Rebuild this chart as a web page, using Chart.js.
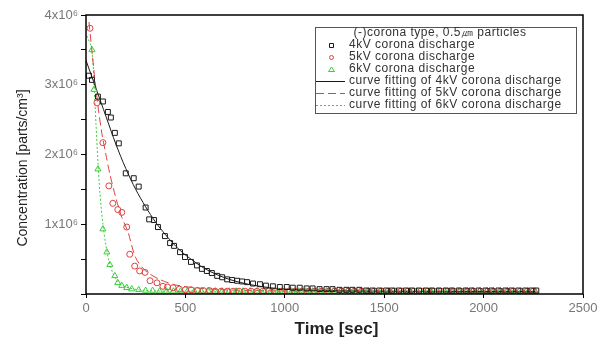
<!DOCTYPE html>
<html>
<head>
<meta charset="utf-8">
<script src="https://cdn.jsdelivr.net/npm/chart.js@4.4.1/dist/chart.umd.min.js"></script>
<style>
  html, body { margin: 0; padding: 0; background: #fff; }
  #wrap { width: 608px; height: 340px; }
</style>
</head>
<body>
<div id="wrap"><canvas id="chart" width="608" height="340"></canvas></div>
<script>
// measured points (time in sec, concentration in 1e6 parts/cm3)
const t4 = [15, 30, 60, 85, 110, 125, 145, 165, 200, 240, 265, 300, 318, 342, 362, 397,
  423, 443, 473, 498, 528, 558, 583, 608, 633, 660, 685, 710, 735, 760, 785, 810,
  840, 875, 905, 940, 975, 1010, 1040, 1075, 1110, 1140, 1175, 1210, 1240, 1275, 1310, 1340,
  1375, 1410, 1440, 1475, 1510, 1540, 1575, 1610, 1640, 1675, 1710, 1740, 1775, 1810, 1840, 1875,
  1910, 1940, 1975, 2010, 2040, 2075, 2110, 2140, 2175, 2210, 2240, 2265];
const c4 = [3.13, 3.07, 2.83, 2.76, 2.61, 2.53, 2.31, 2.16, 1.73, 1.66, 1.54, 1.24, 1.07, 1.06, 0.96, 0.83,
  0.73, 0.69, 0.60, 0.53, 0.46, 0.41, 0.36, 0.33, 0.30, 0.26, 0.24, 0.21, 0.20, 0.19, 0.18, 0.17,
  0.15, 0.14, 0.12, 0.11, 0.10, 0.10, 0.09, 0.09, 0.08, 0.08, 0.07, 0.07, 0.07, 0.06, 0.06, 0.06,
  0.06, 0.05, 0.05, 0.05, 0.05, 0.05, 0.05, 0.05, 0.05, 0.05, 0.05, 0.05, 0.05, 0.05, 0.05, 0.05,
  0.05, 0.05, 0.05, 0.05, 0.05, 0.05, 0.05, 0.05, 0.05, 0.05, 0.05, 0.05];

const t5 = [20, 55, 85, 115, 135, 160, 180, 205, 220, 245, 270, 297, 322, 357, 387, 410,
  438, 470, 500, 530, 560, 590, 620, 650, 680, 710, 740, 770, 800, 830, 860, 890,
  920, 950, 985, 1020, 1050, 1085, 1120, 1150, 1185, 1220, 1250, 1285, 1320, 1350, 1385, 1420,
  1450, 1485, 1520, 1550, 1585, 1620, 1650, 1685, 1720, 1750, 1785, 1820, 1850, 1885, 1920, 1950,
  1985, 2020, 2050, 2085, 2120, 2150, 2185, 2220, 2250];
const c5 = [3.81, 2.74, 2.17, 1.55, 1.30, 1.21, 1.17, 0.96, 0.57, 0.40, 0.33, 0.31, 0.19, 0.16, 0.11, 0.10,
  0.09, 0.07, 0.06, 0.06, 0.05, 0.05, 0.05, 0.04, 0.04, 0.04, 0.04, 0.04, 0.04, 0.04, 0.04, 0.04,
  0.04, 0.04, 0.04, 0.04, 0.04, 0.04, 0.04, 0.04, 0.04, 0.04, 0.04, 0.04, 0.04, 0.04, 0.04, 0.04,
  0.04, 0.04, 0.04, 0.04, 0.04, 0.04, 0.04, 0.04, 0.04, 0.04, 0.04, 0.04, 0.04, 0.04, 0.04, 0.04,
  0.04, 0.04, 0.04, 0.04, 0.04, 0.04, 0.04, 0.04, 0.04];

const t6 = [30, 40, 60, 85, 105, 120, 145, 160, 180, 205, 230, 265, 300, 335, 370, 405,
  440, 475, 510, 545, 580, 615, 650, 685, 720, 755, 790, 825, 860, 895, 930, 965,
  1000, 1035, 1070, 1105, 1140, 1175, 1210, 1245, 1280, 1315, 1350, 1385, 1420, 1455, 1490, 1525,
  1560, 1595, 1630, 1665, 1700, 1735, 1770, 1805, 1840, 1875, 1910, 1945, 1980, 2015, 2050, 2085,
  2120, 2155, 2190, 2225, 2260];
const c6 = [3.50, 2.93, 1.79, 0.93, 0.60, 0.42, 0.26, 0.16, 0.12, 0.09, 0.07, 0.06, 0.05, 0.05, 0.04, 0.04,
  0.04, 0.04, 0.04, 0.04, 0.04, 0.04, 0.04, 0.04, 0.04, 0.04, 0.04, 0.04, 0.04, 0.04, 0.04, 0.04,
  0.04, 0.04, 0.04, 0.04, 0.04, 0.04, 0.04, 0.04, 0.04, 0.04, 0.04, 0.04, 0.04, 0.04, 0.04, 0.04,
  0.04, 0.04, 0.04, 0.04, 0.04, 0.04, 0.04, 0.04, 0.04, 0.04, 0.04, 0.04, 0.04, 0.04, 0.04, 0.04,
  0.04, 0.04, 0.04, 0.04, 0.04];

// fitted curves
const fitT4 = [0, 50, 100, 150, 200, 250, 300, 350, 400, 450, 500, 600, 700, 800, 900, 1000, 1200, 1500, 2000, 2260];
const fitC4 = [3.35, 2.95, 2.55, 2.15, 1.80, 1.50, 1.25, 1.03, 0.85, 0.69, 0.56, 0.36, 0.23, 0.15, 0.10, 0.07, 0.05, 0.04, 0.035, 0.035];
const fitT5 = [15, 40, 60, 80, 100, 120, 150, 180, 210, 250, 300, 370, 450, 550, 700, 1000, 1500, 2260];
const fitC5 = [3.90, 3.20, 2.70, 2.30, 2.00, 1.72, 1.38, 1.10, 0.90, 0.52, 0.33, 0.21, 0.13, 0.09, 0.06, 0.045, 0.04, 0.04];
const fitT6 = [5, 30, 40, 50, 60, 70, 85, 100, 115, 135, 160, 200, 300, 600, 2260];
const fitC6 = [3.70, 3.50, 3.00, 2.45, 1.90, 1.45, 1.00, 0.70, 0.48, 0.30, 0.18, 0.10, 0.05, 0.04, 0.04];

const legendTitle = '(-)corona type, 0.5\u339B particles';
const seriesNames = ['4kV corona discharge', '5kV corona discharge', '6kV corona discharge',
  'curve fitting of 4kV corona discharge', 'curve fitting of 5kV corona discharge', 'curve fitting of 6kV corona discharge'];

const xTicks = [0, 500, 1000, 1500, 2000, 2500];
const xTitle = 'Time [sec]';
const yTitle = 'Concentration [parts/cm\u00B3]';

const BLACK = '#1a1a1a', RED = '#d9443f', GREEN = '#3ccc3c';
const FONT = '"Liberation Sans", Arial, sans-serif';
const NARROW = '"Liberation Sans Narrow", "Arial Narrow", "Liberation Sans", sans-serif';

const pts = (t, c) => t.map((v, i) => ({ x: v, y: c[i] * 1e6 }));

const frame = {
  id: 'frame',
  afterDraw(chart) {
    const { ctx, chartArea: a } = chart;
    ctx.save();
    ctx.strokeStyle = '#000';
    ctx.lineWidth = 1.5;
    ctx.strokeRect(a.left, a.top, a.right - a.left, a.bottom - a.top);

    // axis titles
    ctx.fillStyle = '#222';
    ctx.textAlign = 'center';
    ctx.textBaseline = 'middle';
    ctx.font = 'bold 17px ' + FONT;
    ctx.fillText(xTitle, (a.left + a.right) / 2 + 2, 329);
    ctx.save();
    ctx.translate(23, 168);
    ctx.rotate(-Math.PI / 2);
    ctx.font = '14px ' + NARROW;
    ctx.fillText(yTitle, 0, 0);
    ctx.restore();

    // legend box
    const bx = 315, by = 27, bw = 261, bh = 86;
    ctx.fillStyle = '#fff';
    ctx.fillRect(bx, by, bw, bh);
    ctx.strokeStyle = '#555';
    ctx.lineWidth = 1;
    ctx.strokeRect(bx + 0.5, by + 0.5, bw, bh);
    ctx.font = '12px ' + FONT;
    ctx.letterSpacing = '0.5px';
    ctx.fillStyle = '#333';
    ctx.textBaseline = 'middle';
    ctx.textAlign = 'center';
    ctx.fillText(legendTitle, 440, 33);
    ctx.textAlign = 'left';
    const rowY = [45, 57, 69, 81, 93, 105];
    chart.data.datasets.forEach((ds, i) => {
      const y = rowY[i];
      ctx.strokeStyle = ds.borderColor;
      ctx.lineWidth = 1;
      if (i < 3) {
        ctx.beginPath();
        if (ds.pointStyle === 'rect') ctx.rect(329.5, y - 1.5, 4, 4);
        else if (ds.pointStyle === 'circle') ctx.arc(331.5, y + 0.5, 2, 0, Math.PI * 2);
        else { ctx.moveTo(331.5, y - 2); ctx.lineTo(334.5, y + 2.5); ctx.lineTo(328.5, y + 2.5); ctx.closePath(); }
        ctx.stroke();
      } else {
        ctx.setLineDash(ds.borderDash || []);
        ctx.beginPath();
        ctx.moveTo(316, y + 0.5);
        ctx.lineTo(345, y + 0.5);
        ctx.stroke();
        ctx.setLineDash([]);
      }
      ctx.fillStyle = '#333';
      ctx.fillText(ds.label, 349, y);
    });
    ctx.restore();
  }
};

const pointSet = (i, t, c, style, color, r) => ({
  label: seriesNames[i], data: pts(t, c), showLine: false,
  pointStyle: style, pointRadius: r, pointBorderWidth: 1,
  pointBorderColor: color, pointBackgroundColor: 'rgba(0,0,0,0)',
  borderColor: color, backgroundColor: 'rgba(0,0,0,0)'
});
const fitSet = (i, t, c, color, dash) => ({
  label: seriesNames[i], data: pts(t, c), showLine: true, pointRadius: 0,
  borderColor: color, borderWidth: 1, borderDash: dash, tension: 0.3,
  backgroundColor: 'rgba(0,0,0,0)'
});

new Chart(document.getElementById('chart'), {
  type: 'scatter',
  data: {
    datasets: [
      pointSet(0, t4, c4, 'rect', BLACK, 3.5),
      pointSet(1, t5, c5, 'circle', RED, 3),
      pointSet(2, t6, c6, 'triangle', GREEN, 3.5),
      fitSet(3, fitT4, fitC4, BLACK, []),
      fitSet(4, fitT5, fitC5, RED, [8, 4]),
      fitSet(5, fitT6, fitC6, GREEN, [2, 2])
    ]
  },
  options: {
    responsive: false,
    animation: false,
    layout: { padding: { left: 0, right: 25, top: 15, bottom: 0 } },
    plugins: { legend: { display: false }, tooltip: { enabled: false } },
    scales: {
      x: {
        type: 'linear', min: 0, max: 2500,
        afterFit: s => { s.height = 46; },
        afterBuildTicks: s => { s.ticks = xTicks.map(v => ({ value: v })); },
        ticks: { color: '#777', font: { family: FONT, size: 13 }, padding: 3, callback: v => String(v) },
        grid: { display: true, drawOnChartArea: false, tickLength: 4, color: '#000' },
        border: { display: false }
      },
      y: {
        min: 0, max: 4e6,
        afterFit: s => { s.width = 86; },
        ticks: {
          stepSize: 500000, autoSkip: false, color: '#777', font: { family: FONT, size: 13 }, padding: 3,
          callback: v => (v > 0 && v % 1e6 === 0) ? (v / 1e6) + 'x10\u2076' : ''
        },
        grid: { display: true, drawOnChartArea: false, tickLength: 5, color: '#000' },
        border: { display: false }
      }
    }
  },
  plugins: [frame]
});
</script>
</body>
</html>
